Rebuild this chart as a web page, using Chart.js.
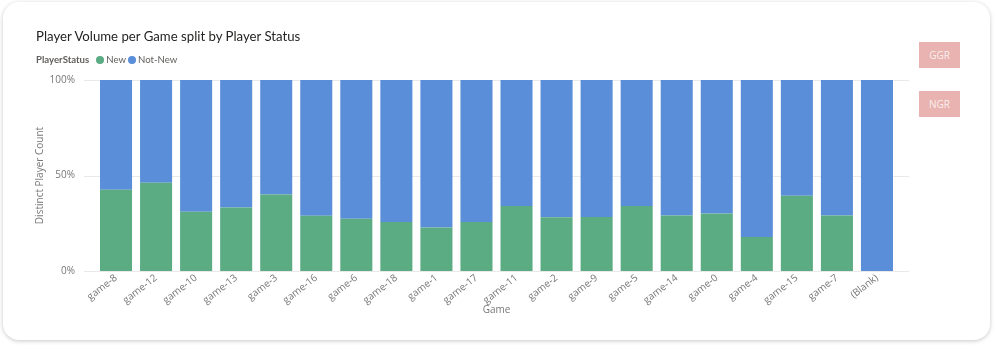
<!DOCTYPE html>
<html>
<head>
<meta charset="utf-8">
<script src="https://cdn.jsdelivr.net/npm/chart.js@4.4.1/dist/chart.umd.min.js"></script>
<style>
  html, body { margin: 0; padding: 0; background: #ffffff; }
  body { width: 996px; height: 347px; position: relative; overflow: hidden; font-family: "Open Sans", "Noto Sans", sans-serif; }
  .card { position: absolute; left: 3px; top: 2px; width: 987px; height: 338px; background: #fff; border-radius: 16px; box-shadow: 0 1px 4px rgba(0,0,0,0.22); }
  #chart { position: absolute; left: 0; top: 0; }
  .title { position: absolute; left: 36px; top: 28px; font-family: Lato, sans-serif; font-size: 13.2px; color: #252423; white-space: nowrap; }
  .legend { position: absolute; left: 36px; top: 54px; font-family: Lato, sans-serif; font-size: 9.6px; color: #605e5c; white-space: nowrap; display: flex; align-items: center; }
  .legend b { font-weight: 700; margin-right: 7px; }
  .legend .item { display: flex; align-items: center; margin-right: 2px; }
  .legend .dot { width: 8px; height: 8px; border-radius: 50%; margin-right: 2px; }
  .btn { position: absolute; left: 919px; width: 41px; height: 26px; background: #e8b3b0; color: #fbeeee; font-size: 10px; display: flex; align-items: center; justify-content: center; }
</style>
</head>
<body>
<div class="card"></div>
<canvas id="chart" width="996" height="347"></canvas>
<div class="title">Player Volume per Game split by Player Status</div>
<div class="legend" id="legend"></div>
<div class="btn" style="top:42px">GGR</div>
<div class="btn" style="top:91px">NGR</div>
<script>
// Games in display order
const games = ['game-8', 'game-12', 'game-10', 'game-13', 'game-3', 'game-16', 'game-6', 'game-18',
  'game-1', 'game-17', 'game-11', 'game-2', 'game-9', 'game-5', 'game-14', 'game-0', 'game-4',
  'game-15', 'game-7', '(Blank)'];

// Share of distinct players (%) per status
const newShare = [42.5, 46.2, 31.0, 33.3, 40.1, 28.9, 27.4, 25.6, 22.8, 25.6, 34.0, 28.1, 28.3,
  34.0, 29.1, 30.1, 17.8, 39.4, 29.1, 0];
const notNewShare = [57.5, 53.8, 69.0, 66.7, 59.9, 71.1, 72.6, 74.4, 77.2, 74.4, 66.0, 71.9, 71.7,
  66.0, 70.9, 69.9, 82.2, 60.6, 70.9, 100];

const yTicks = [0, 50, 100];

const seriesNames = ['New', 'Not-New'];
const seriesColors = ['#5bab83', '#5a8ed8'];

// legend built from the series definitions
const legendEl = document.getElementById('legend');
legendEl.innerHTML = '<b>PlayerStatus</b>' + seriesNames.map((n, i) =>
  `<span class="item"><span class="dot" style="background:${seriesColors[i]}"></span>${n}</span>`).join('');

const FONT = "'Open Sans', 'Noto Sans', sans-serif";
const TICK_COLOR = '#777777';

// horizontal gridlines that run a little past the plot area
const wideGrid = {
  id: 'wideGrid',
  beforeDatasetsDraw(chart) {
    const { ctx, chartArea, scales } = chart;
    ctx.save();
    ctx.strokeStyle = '#e9e9e9';
    ctx.lineWidth = 1;
    yTicks.forEach(v => {
      const y = Math.round(scales.y.getPixelForValue(v)) + 0.5;
      ctx.beginPath();
      ctx.moveTo(chartArea.left - 12, y);
      ctx.lineTo(chartArea.right + 12, y);
      ctx.stroke();
    });
    ctx.restore();
  }
};

new Chart(document.getElementById('chart'), {
  type: 'bar',
  data: {
    labels: games,
    datasets: [
      { label: seriesNames[0], data: newShare, backgroundColor: seriesColors[0] },
      { label: seriesNames[1], data: notNewShare, backgroundColor: seriesColors[1] }
    ]
  },
  plugins: [wideGrid],
  options: {
    responsive: false,
    animation: false,
    devicePixelRatio: 1,
    layout: { padding: { left: 0, top: 80, right: 99, bottom: 0 } },
    datasets: { bar: { barPercentage: 0.8, categoryPercentage: 1.0 } },
    plugins: { legend: { display: false }, tooltip: { enabled: false } },
    scales: {
      x: {
        stacked: true,
        grid: { display: false, drawTicks: false },
        border: { display: false },
        ticks: {
          color: TICK_COLOR, font: { family: FONT, size: 10 },
          minRotation: 38, maxRotation: 38, padding: 1, autoSkip: false
        },
        title: { display: true, text: 'Game', color: TICK_COLOR, font: { family: FONT, size: 10 }, padding: { top: 0, bottom: 31 } },
        afterFit(s) { s.height = 76; }
      },
      y: {
        stacked: true,
        min: 0, max: 100,
        grid: { display: false, drawTicks: false },
        border: { display: false },
        afterBuildTicks(s) { s.ticks = yTicks.map(v => ({ value: v })); },
        ticks: {
          color: TICK_COLOR, font: { family: FONT, size: 10 }, padding: 21,
          callback: v => v + '%'
        },
        title: { display: true, text: 'Distinct Player Count', color: TICK_COLOR, font: { family: FONT, size: 10 }, padding: { top: 34, bottom: 0 } },
        afterFit(s) { s.width = 96; }
      }
    }
  }
});
</script>
</body>
</html>
